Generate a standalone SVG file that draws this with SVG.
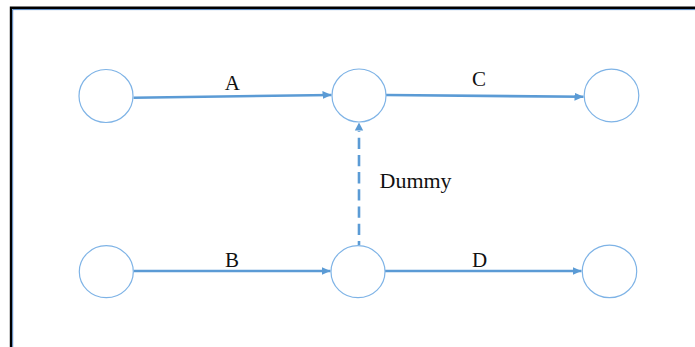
<svg xmlns="http://www.w3.org/2000/svg" width="695" height="347" viewBox="0 0 695 347">
<style>
.node{fill:#ffffff;stroke:#7eb3e6;stroke-width:1.2}
.edge{fill:none;stroke:#5b9bd5;stroke-width:2.6}
.dash{stroke-dasharray:11.3 5.9;stroke-dashoffset:7.2}
.lbl{font-family:"Liberation Serif",serif;font-size:21px;fill:#111111;text-anchor:middle}
</style>
<defs>
<marker id="ah" markerUnits="userSpaceOnUse" markerWidth="10" markerHeight="9" refX="9" refY="4" orient="auto">
<path d="M0,0 L9,4 L0,8 z" fill="#5b9bd5"/>
</marker>
</defs>
<rect x="0" y="0" width="695" height="347" fill="#ffffff"/>
<g id="frame">
<path d="M11,347 V7.8 H695" fill="none" stroke="#000000" stroke-width="2.4"/>
<path d="M12.7,347 V9.6 H695" fill="none" stroke="#4f81bd" stroke-width="1"/>
</g>
<g id="connectors">
<path class="edge" d="M133.5,97.7 L331.5,95" marker-end="url(#ah)"/>
<path class="edge" d="M386,95 L583.5,96.8" marker-end="url(#ah)"/>
<path class="edge" d="M133.5,271 L330.5,271" marker-end="url(#ah)"/>
<path class="edge" d="M385,271 L581.5,271" marker-end="url(#ah)"/>
<path class="edge dash" d="M359,245 L359,131"/>
<path d="M354.8,130.5 L359,122.5 L363.2,130.5 z" fill="#5b9bd5"/>
</g>
<g id="n1"><ellipse class="node" cx="106" cy="96" rx="27" ry="26.5"/></g>
<g id="n2"><ellipse class="node" cx="359" cy="95.5" rx="27" ry="26.5"/></g>
<g id="n3"><ellipse class="node" cx="611.5" cy="95.5" rx="27.3" ry="26.3"/></g>
<g id="n4"><ellipse class="node" cx="106.3" cy="271.7" rx="27" ry="26"/></g>
<g id="n5"><ellipse class="node" cx="358" cy="271.7" rx="27" ry="26"/></g>
<g id="n6"><ellipse class="node" cx="609.5" cy="271.4" rx="27.2" ry="26.3"/></g>
<g id="labels">
<text class="lbl" x="232.3" y="89.5">A</text>
<text class="lbl" x="479" y="86">C</text>
<text class="lbl" x="232" y="266.7">B</text>
<text class="lbl" x="479.5" y="266.7">D</text>
<text class="lbl" x="379.5" y="188" style="text-anchor:start;font-size:22px">Dummy</text>
</g>
</svg>
